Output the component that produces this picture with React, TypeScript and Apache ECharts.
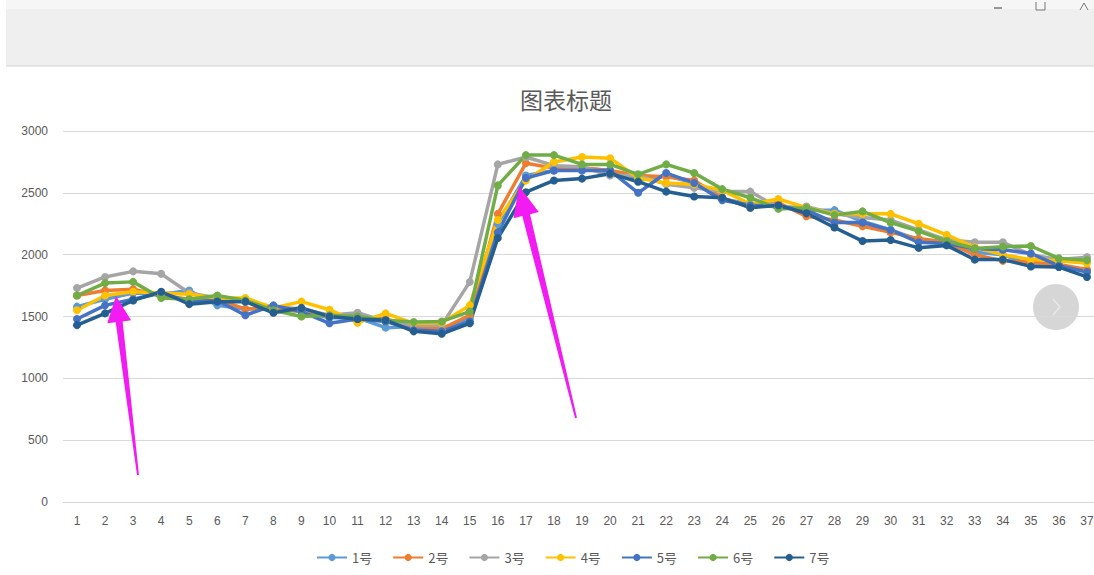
import React, { useEffect, useRef } from "react";
import * as echarts from "echarts";

const categories = Array.from({ length: 37 }, (_, i) => String(i + 1));
const seriesNames = ["1号", "2号", "3号", "4号", "5号", "6号", "7号"];
const colors = ["#5B9BD5", "#ED7D31", "#A5A5A5", "#FFC000", "#4472C4", "#70AD47", "#255E91"];
const yTicks = [0, 500, 1000, 1500, 2000, 2500, 3000];

const s1 = [1580, 1640, 1690, 1680, 1710, 1590, 1560, 1560, 1540, 1490, 1490, 1410, 1420, 1400, 1480, 2250, 2640, 2680, 2700, 2680, 2600, 2640, 2580, 2450, 2410, 2400, 2360, 2360, 2270, 2200, 2120, 2100, 2020, 2000, 1920, 1900, 1870];
const s2 = [1670, 1710, 1720, 1670, 1640, 1640, 1560, 1570, 1540, 1500, 1500, 1480, 1420, 1400, 1510, 2330, 2740, 2700, 2700, 2680, 2640, 2630, 2600, 2460, 2380, 2420, 2310, 2280, 2230, 2180, 2130, 2100, 2000, 1950, 1940, 1920, 1880];
const s3 = [1730, 1820, 1865, 1845, 1690, 1650, 1620, 1580, 1560, 1510, 1530, 1460, 1430, 1430, 1780, 2730, 2790, 2720, 2710, 2640, 2640, 2570, 2540, 2510, 2510, 2380, 2390, 2330, 2300, 2280, 2200, 2120, 2100, 2100, 2000, 1960, 1980];
const s4 = [1550, 1670, 1700, 1690, 1680, 1650, 1650, 1570, 1620, 1555, 1450, 1525, 1445, 1450, 1590, 2280, 2600, 2750, 2790, 2780, 2620, 2580, 2570, 2520, 2410, 2450, 2380, 2330, 2330, 2330, 2250, 2160, 2060, 2000, 1960, 1950, 1930];
const s5 = [1480, 1590, 1640, 1690, 1620, 1630, 1510, 1590, 1540, 1445, 1480, 1460, 1390, 1380, 1460, 2180, 2620, 2680, 2680, 2680, 2500, 2660, 2580, 2440, 2400, 2390, 2360, 2260, 2260, 2200, 2100, 2090, 2050, 2040, 2010, 1910, 1860];
const s6 = [1670, 1770, 1780, 1650, 1640, 1670, 1630, 1550, 1500, 1510, 1500, 1470, 1455, 1460, 1540, 2560, 2805, 2805, 2730, 2730, 2650, 2730, 2660, 2530, 2460, 2370, 2380, 2320, 2350, 2260, 2190, 2110, 2050, 2065, 2070, 1970, 1955];
const s7 = [1430, 1525, 1630, 1700, 1600, 1620, 1620, 1530, 1570, 1500, 1480, 1470, 1380, 1360, 1445, 2135, 2505, 2600, 2615, 2655, 2590, 2510, 2470, 2460, 2380, 2400, 2335, 2220, 2110, 2118, 2055, 2075, 1960, 1960, 1905, 1900, 1820];
const seriesData = [s1, s2, s3, s4, s5, s6, s7];

function arrow(tip: number[], tail: number[], headLen: number, headHalf: number, baseHalf: number, tailHalf: number) {
  const dx = tip[0] - tail[0];
  const dy = tip[1] - tail[1];
  const len = Math.hypot(dx, dy);
  const ux = dx / len, uy = dy / len;
  const nx = -uy, ny = ux;
  const bx = tip[0] - headLen * ux, by = tip[1] - headLen * uy;
  return [
    tip,
    [bx + headHalf * nx, by + headHalf * ny],
    [bx + baseHalf * nx, by + baseHalf * ny],
    [tail[0] + tailHalf * nx, tail[1] + tailHalf * ny],
    [tail[0] - tailHalf * nx, tail[1] - tailHalf * ny],
    [bx - baseHalf * nx, by - baseHalf * ny],
    [bx - headHalf * nx, by - headHalf * ny],
  ];
}

export default function App() {
  const ref = useRef<HTMLDivElement>(null);
  useEffect(() => {
    if (!ref.current) return;
    const chart = echarts.init(ref.current, null, { renderer: "svg" });
    const textColor = "#595959";
    chart.setOption({
      animation: false,
      backgroundColor: "#ffffff",
      color: colors,
      title: {
        text: "图表标题",
        left: 515,
        top: 82,
        textStyle: { fontSize: 23, fontWeight: "normal", color: textColor, fontFamily: "Noto Sans CJK SC" },
      },
      legend: {
        left: 311,
        top: 546,
        itemWidth: 30,
        itemHeight: 9,
        itemGap: 20,
        textStyle: { fontSize: 13, color: textColor, fontFamily: "Noto Sans CJK SC" },
        data: seriesNames,
      },
      grid: { left: 63, top: 131, width: 1038, height: 371, containLabel: false, outerBoundsMode: "none" },
      xAxis: {
        type: "category",
        data: categories,
        boundaryGap: true,
        axisLine: { lineStyle: { color: "#d9d9d9" } },
        axisTick: { show: false },
        axisLabel: { color: textColor, fontSize: 12, margin: 13, fontFamily: "Liberation Sans Narrow, Liberation Sans" },
      },
      yAxis: {
        type: "value",
        min: yTicks[0],
        max: yTicks[yTicks.length - 1],
        interval: 500,
        axisLine: { show: false },
        axisTick: { show: false },
        splitLine: { lineStyle: { color: "#d9d9d9" } },
        axisLabel: {
          color: textColor,
          fontSize: 12,
          margin: 15,
          fontFamily: "Liberation Sans Narrow, Liberation Sans",
          formatter: (v: number) => String(v),
        },
      },
      series: seriesNames.map((name, i) => ({
        name,
        type: "line",
        data: seriesData[i],
        symbol: "circle",
        symbolSize: 8,
        lineStyle: { width: 3.5, color: colors[i] },
        itemStyle: { color: colors[i] },
      })),
      graphic: [
        { type: "rect", shape: { x: 6, y: 0, width: 1088, height: 9 }, style: { fill: "#f6f6f6" }, silent: true },
        { type: "rect", shape: { x: 6, y: 9, width: 1088, height: 57 }, style: { fill: "#efefef" }, silent: true },
        { type: "line", shape: { x1: 6, y1: 66, x2: 1094, y2: 66 }, style: { stroke: "#d4d4d4", lineWidth: 1 }, silent: true },
        { type: "line", shape: { x1: 994, y1: 8, x2: 1002, y2: 8 }, style: { stroke: "#777", lineWidth: 1.5 }, silent: true },
        { type: "polyline", shape: { points: [[1036, 2], [1036, 10], [1045, 10], [1045, 2]] }, style: { stroke: "#777", lineWidth: 1, fill: "none" }, silent: true },
        { type: "polyline", shape: { points: [[1080, 10], [1084, 3], [1088, 10]] }, style: { stroke: "#777", lineWidth: 1, fill: "none" }, silent: true },
        { type: "circle", shape: { cx: 1056, cy: 307, r: 23 }, style: { fill: "rgba(200,200,200,0.75)" }, silent: true },
        { type: "polyline", shape: { points: [[1053, 299], [1060, 307], [1053, 315]] }, style: { stroke: "#e8e8e8", lineWidth: 1.5, fill: "none" }, silent: true },
        { type: "polygon", shape: { points: arrow([116, 296], [138, 475], 26, 12, 3.5, 1) }, style: { fill: "#f21cf2" }, silent: true, z: 100 },
        { type: "polygon", shape: { points: arrow([519, 186], [576, 418], 30, 13, 4, 1) }, style: { fill: "#f21cf2" }, silent: true, z: 100 },
      ],
    });
    return () => chart.dispose();
  }, []);
  return <div ref={ref} style={{ position: "absolute", left: 0, top: 0, width: 1094, height: 575 }} />;
}
